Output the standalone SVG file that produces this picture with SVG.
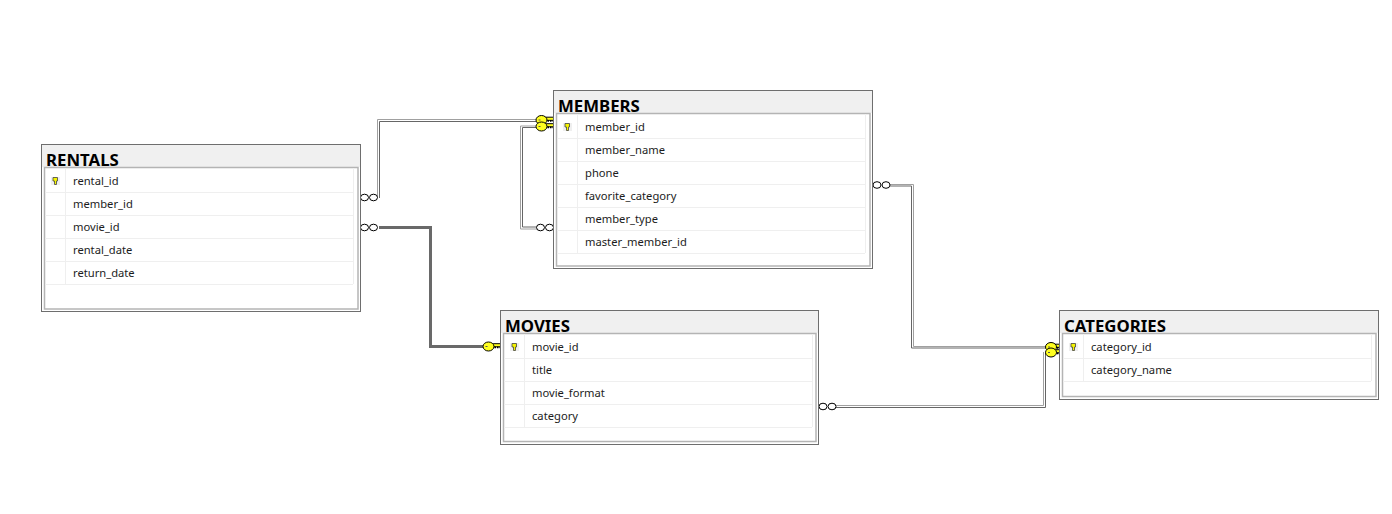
<svg xmlns="http://www.w3.org/2000/svg" width="1392" height="514" viewBox="0 0 1392 514">
<style>
.outer{fill:#fff;stroke:#6e6e6e;stroke-width:1}
.head{fill:#f0f0f0}
.inner{fill:#fff;stroke:#b4b4b4;stroke-width:1.500}
.row{stroke:#efefef;stroke-width:1;fill:none}
.title{font:bold 16.800px "Noto Sans","Open Sans",sans-serif;fill:#000}
.cell{font:11.200px "Noto Sans","Open Sans",sans-serif;fill:#1c1c1c}
.l1{fill:none;stroke:#a0a0a0;stroke-width:1}
.l2{fill:none;stroke:#666;stroke-width:1}
.thick{fill:none;stroke:#696969;stroke-width:3}
.ring{fill:#fff;stroke:#000;stroke-width:1}
.k{fill:#ffff20;stroke:#000;stroke-width:1}
.t{fill:#000}
</style>
<defs>
<g id="pk"><rect x="-4" y="-4" width="9" height="8" fill="#efefef"/><path d="M-2 -3.500H2.500V0H1.500V3.500H-0.500V0H-2Z" fill="#f4f400" stroke="#444" stroke-width="0.800"/></g>
<g id="oo"><ellipse cx="-4.500" cy="0" rx="4" ry="3.300" class="ring"/><ellipse cx="4.500" cy="0" rx="4" ry="3.300" class="ring"/></g>
<g id="key"><path d="M3 -2.800H12.500V0.300H3Z" class="k" stroke-width="0.800"/><path class="t" d="M6 0H7.500V1.800H6ZM8.500 0H10V1.800H8.500ZM11 0H12.500V1.800H11Z"/><ellipse cx="0" cy="0" rx="5.500" ry="4.500" class="k"/><rect x="-3" y="-0.500" width="2" height="1" fill="#555"/></g>
</defs>

<g id="connectors">
<path class="l1" d="M377.500 198V119.500H541"/><path class="l2" d="M379.500 198V121.500H541"/>
<path class="thick" d="M379 227.500H430.500V346.500H484"/>
<path class="l1" d="M541 126H520.500V229H537"/><path class="l2" d="M541 127.500H522.500V227H537"/>
<path class="l1" d="M890 184.500H913.500V346.500H1046"/><path class="l2" d="M890 186H911.500V348H1046"/>
<path class="l1" d="M836 405.500H1043.500V352"/><path class="l2" d="M836 407.500H1045.500V352"/>
<use href="#oo" x="369" y="197.500"/><use href="#oo" x="369" y="227.500"/><use href="#oo" x="545" y="227.500"/><use href="#oo" x="881.500" y="185"/><use href="#oo" x="827.500" y="406.500"/>
<use href="#key" x="541.500" y="120"/><use href="#key" x="541.500" y="126.500"/><use href="#key" x="488.500" y="346.500"/><use href="#key" x="1051" y="347"/><use href="#key" x="1051" y="352.500"/>
</g>

<g id="rentals">
<rect class="outer" x="41.500" y="144.500" width="319" height="167"/>
<rect class="head" x="42" y="145" width="318" height="22"/>
<rect class="inner" x="44.500" y="167.500" width="313.500" height="141.500"/>
<path class="row" d="M45 192.500H353M45 215.500H353M45 238.500H353M45 261.500H353M45 284.500H353M65.500 168V284M353.500 168V284"/>
<use href="#pk" x="55" y="181"/>
<text class="title" x="46" y="166">RENTALS</text>
<text class="cell" x="73" y="185">rental_id</text><text class="cell" x="73" y="208">member_id</text><text class="cell" x="73" y="231">movie_id</text><text class="cell" x="73" y="254">rental_date</text><text class="cell" x="73" y="277">return_date</text>
</g>

<g id="members">
<rect class="outer" x="553.500" y="90.500" width="319" height="178"/>
<rect class="head" x="554" y="91" width="318" height="22"/>
<rect class="inner" x="556.500" y="113.500" width="313.500" height="152.500"/>
<path class="row" d="M557 138.500H865M557 161.500H865M557 184.500H865M557 207.500H865M557 230.500H865M557 253.500H865M577.500 114V253M865.500 114V253"/>
<use href="#pk" x="567" y="127"/>
<text class="title" x="558" y="112">MEMBERS</text>
<text class="cell" x="585" y="131">member_id</text><text class="cell" x="585" y="154">member_name</text><text class="cell" x="585" y="177">phone</text><text class="cell" x="585" y="200">favorite_category</text><text class="cell" x="585" y="223">member_type</text><text class="cell" x="585" y="246">master_member_id</text>
</g>

<g id="movies">
<rect class="outer" x="500.500" y="310.500" width="318" height="134"/>
<rect class="head" x="501" y="311" width="317" height="22"/>
<rect class="inner" x="503.500" y="333.500" width="312.500" height="108"/>
<path class="row" d="M504 358.500H812M504 381.500H812M504 404.500H812M504 427.500H812M524.500 334V427M812.500 334V427"/>
<use href="#pk" x="514" y="347"/>
<text class="title" x="505" y="332">MOVIES</text>
<text class="cell" x="532" y="351">movie_id</text><text class="cell" x="532" y="374">title</text><text class="cell" x="532" y="397">movie_format</text><text class="cell" x="532" y="420">category</text>
</g>

<g id="categories">
<rect class="outer" x="1059.500" y="310.500" width="319" height="89"/>
<rect class="head" x="1060" y="311" width="318" height="22"/>
<rect class="inner" x="1062.500" y="333.500" width="313.500" height="63"/>
<path class="row" d="M1063 358.500H1371M1063 381.500H1371M1083.500 334V381M1371.500 334V381"/>
<use href="#pk" x="1073" y="347"/>
<text class="title" x="1064" y="332">CATEGORIES</text>
<text class="cell" x="1091" y="351">category_id</text><text class="cell" x="1091" y="374">category_name</text>
</g>
</svg>
